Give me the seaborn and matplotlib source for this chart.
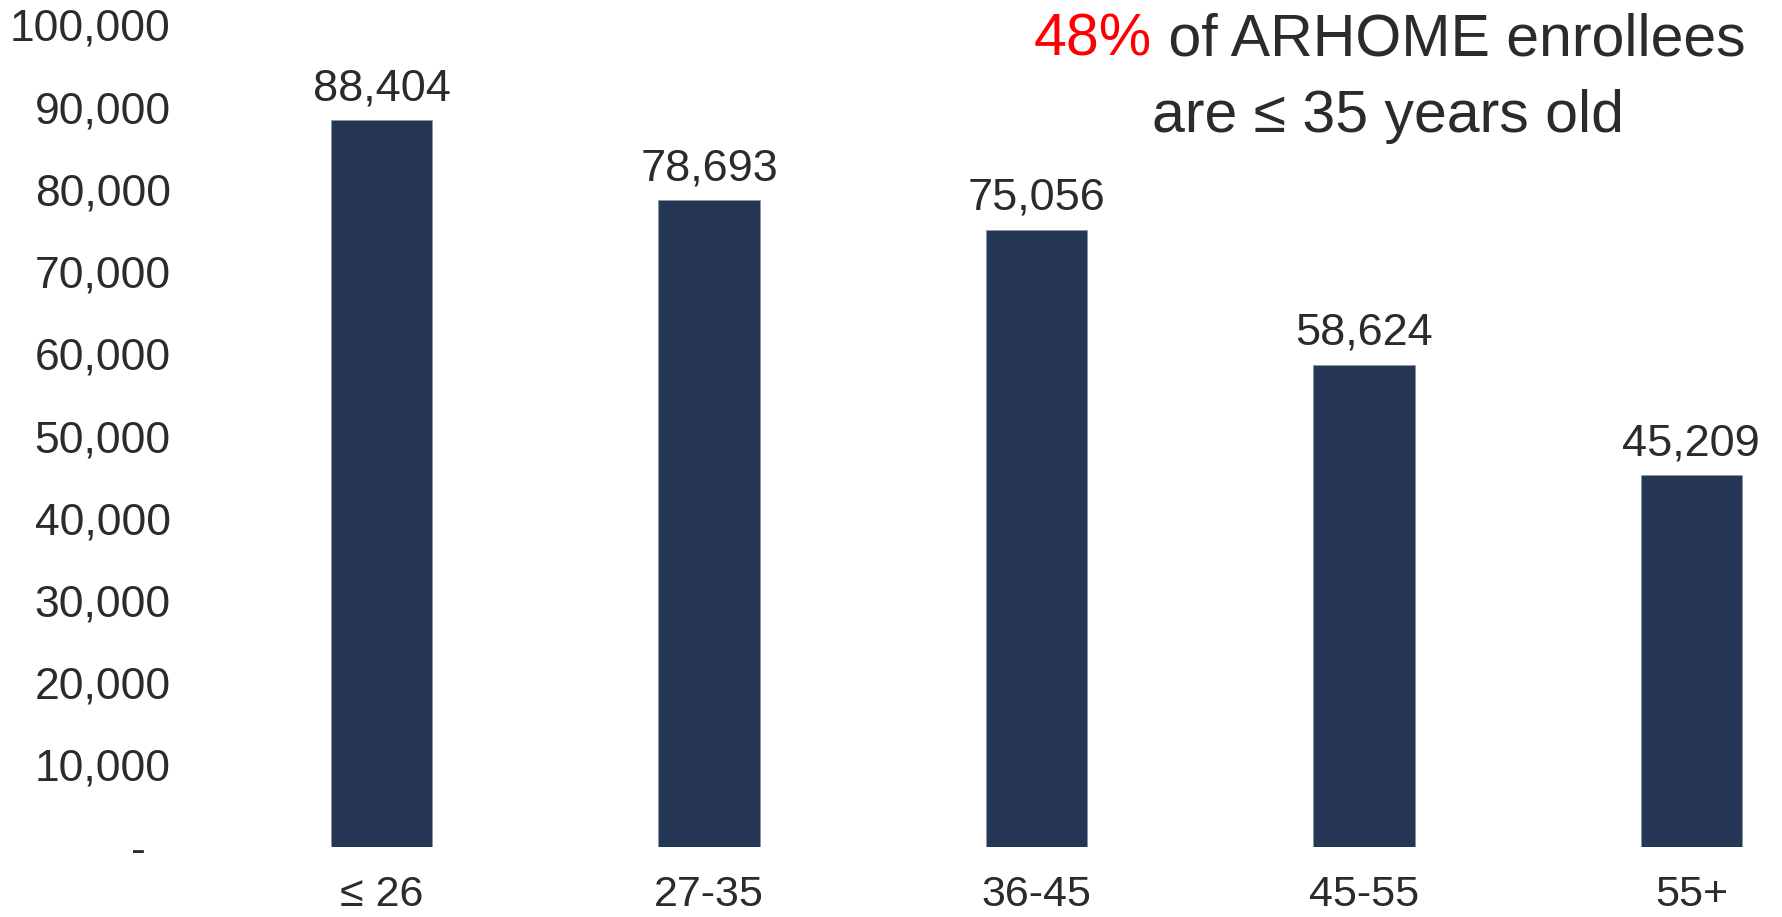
import matplotlib
matplotlib.use("Agg")
import matplotlib.pyplot as plt
import seaborn as sns
import pandas as pd
from matplotlib.ticker import FuncFormatter

categories = ["≤ 26", "27-35", "36-45", "45-55", "55+"]
values = [88404, 78693, 75056, 58624, 45209]
yticks = [0, 10000, 20000, 30000, 40000, 50000, 60000, 70000, 80000, 90000, 100000]

sns.set_theme(style="white")
plt.rcParams['font.family'] = ['Liberation Sans', 'DejaVu Sans']

BAR = "#263755"
TXT = "#2b2b2b"

df = pd.DataFrame({"cat": categories, "val": values})

fig = plt.figure(figsize=(17.83, 9.17), dpi=100)
ax = fig.add_axes([218/1783, 70/917, 1 - 218/1783, (847-25)/917])

sns.barplot(data=df, x="cat", y="val", color=BAR, width=0.31, saturation=1, ax=ax,
            edgecolor="#8a96aa", linewidth=0.6)

ax.set_ylim(0, 100000)
ax.set_xlim(-0.5, 4.28)
ax.set_yticks(yticks)
ax.yaxis.set_major_formatter(FuncFormatter(lambda v, p: "-  " if v == 0 else f"{int(v):,}"))
ax.tick_params(axis="y", labelsize=32, colors=TXT, length=0, pad=34)
ax.tick_params(axis="x", labelsize=31, colors=TXT, length=0, pad=20)
ax.set_xlabel("")
ax.set_ylabel("")
for s in ax.spines.values():
    s.set_visible(False)
ax.grid(False)

for i, v in enumerate(values):
    ax.annotate(f"{v:,}", (i, v), xytext=(0, 8), textcoords="offset points",
                ha="center", va="bottom", fontsize=32.5, color=TXT)

# headline
xb = 1152/1783
fig.text(xb, 1 - 40/917, "48%", color="#ff0000", fontsize=42.5, ha="right", va="center")
fig.text(xb, 1 - 40/917, " of ARHOME enrollees", color=TXT, fontsize=42.5, ha="left", va="center")
fig.text(1388/1783, 1 - 116/917, "are ≤ 35 years old", color=TXT, fontsize=42.5, ha="center", va="center")

fig.savefig("out.png", dpi=100)
